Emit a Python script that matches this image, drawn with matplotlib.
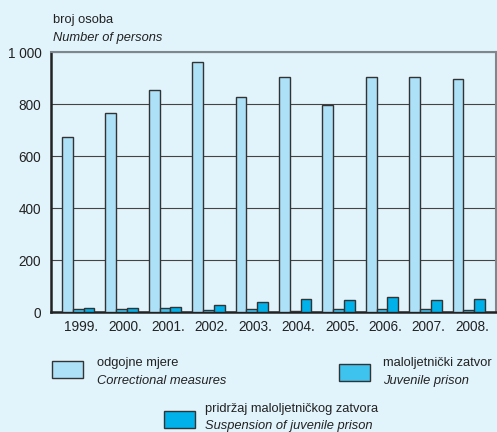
import numpy as np
import matplotlib
matplotlib.use("Agg")
import matplotlib.pyplot as plt
from matplotlib.patches import Rectangle

plt.rcParams['font.family'] = ['Liberation Sans', 'DejaVu Sans']

# Podaci
godine = ["1999.", "2000.", "2001.", "2002.", "2003.", "2004.", "2005.", "2006.", "2007.", "2008."]
odgojne_mjere = [672, 764, 853, 960, 827, 905, 795, 905, 904, 897]
maloljetnicki_zatvor = [12, 10, 17, 8, 11, 5, 13, 11, 13, 8]
pridrzaj_zatvora = [14, 15, 18, 27, 37, 50, 46, 57, 48, 51]

bg = "#E1F3FB"
c_odg = "#ADE1F8"
c_mal = "#3EC3EE"
c_pri = "#00B1EA"
edge = "#333333"

W, H = 497, 432
fig = plt.figure(figsize=(W / 100, H / 100), dpi=100, facecolor=bg)
ax = fig.add_axes([51 / W, (H - 312) / H, (496 - 51) / W, (312 - 52) / H])
ax.set_facecolor(bg)

x = np.arange(len(godine))
w = 0.25
ax.bar(x + 0.125, odgojne_mjere, w, color=c_odg, edgecolor=edge, linewidth=1, zorder=3)
ax.bar(x + 0.375, maloljetnicki_zatvor, w, color=c_mal, edgecolor=edge, linewidth=1, zorder=3)
ax.bar(x + 0.625, pridrzaj_zatvora, w, color=c_pri, edgecolor=edge, linewidth=1, zorder=3)

ax.set_xlim(-0.25, len(godine))
ax.set_ylim(0, 1000)
ax.set_yticks([0, 200, 400, 600, 800, 1000])
ax.set_yticklabels(["0", "200", "400", "600", "800", "1 000"])
ax.set_xticks(x + 0.45)
ax.set_xticklabels(godine)
ax.tick_params(axis='both', length=0, labelsize=9.8, colors="#222222")
ax.tick_params(axis='y', pad=7)
ax.tick_params(axis='x', pad=6)
ax.yaxis.grid(True, color="#444444", linewidth=0.8, zorder=1)

for s in ["top", "right"]:
    ax.spines[s].set_color("#7F878C")
    ax.spines[s].set_linewidth(1.5)
for s in ["left", "bottom"]:
    ax.spines[s].set_color("#222222")
    ax.spines[s].set_linewidth(1.8)

fig.text(53 / W, 1 - 20 / H, "broj osoba", fontsize=9.3, va="center", color="#222222")
fig.text(53 / W, 1 - 38 / H, "Number of persons", fontsize=9.3, style="italic", va="center", color="#222222")

# Legenda
def legend_item(bx, by, color, txt1, txt2, tx, ty1, ty2):
    fig.add_artist(Rectangle((bx / W, 1 - (by + 17) / H), 31 / W, 17 / H,
                             facecolor=color, edgecolor=edge, linewidth=1,
                             transform=fig.transFigure))
    fig.text(tx / W, 1 - ty1 / H, txt1, fontsize=9.3, va="center", color="#222222")
    fig.text(tx / W, 1 - ty2 / H, txt2, fontsize=9.3, style="italic", va="center", color="#222222")

legend_item(52, 361, c_odg, "odgojne mjere", "Correctional measures", 97, 363, 381)
legend_item(339, 364, c_mal, "maloljetnički zatvor", "Juvenile prison", 383, 363, 381)
legend_item(164, 411, c_pri, "pridržaj maloljetničkog zatvora", "Suspension of juvenile prison", 205, 409, 426)

fig.savefig("out.png", dpi=100, facecolor=bg)
